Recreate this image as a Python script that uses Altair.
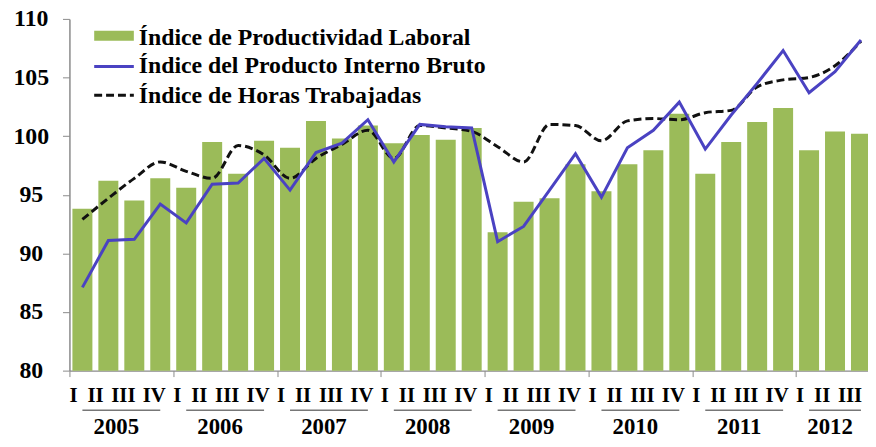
import altair as alt
import pandas as pd

years = ["2005", "2006", "2007", "2008", "2009", "2010", "2011", "2012"]
quarters = ["I", "II", "III", "IV"]

productividad = [93.8, 96.2, 94.5, 96.4,
                 95.6, 99.5, 96.8, 99.6,
                 99.0, 101.3, 99.8, 100.9,
                 99.4, 100.1, 99.7, 100.7,
                 91.8, 94.4, 94.7, 97.6,
                 95.3, 97.6, 98.8, 101.9,
                 96.8, 99.5, 101.2, 102.4,
                 98.8, 100.4, 100.2]
pib = [87.1, 91.1, 91.2, 94.2,
       92.6, 95.9, 96.0, 98.1,
       95.4, 98.6, 99.4, 101.4,
       97.8, 101.0, 100.8, 100.7,
       91.0, 92.3, 95.4, 98.5,
       94.8, 99.0, 100.5, 102.9,
       98.9, 101.8, 104.5, 107.3,
       103.7, 105.5, 108.2]
horas = [92.9, 94.7, 96.4, 97.8,
         97.0, 96.4, 99.2, 98.4,
         96.4, 98.1, 99.3, 100.5,
         98.1, 100.9, 100.7, 100.4,
         99.1, 97.8, 101.0, 100.9,
         99.6, 101.3, 101.5, 101.4,
         102.0, 102.2, 104.2, 104.8,
         105.0, 106.0, 108.1]

legend_labels = ["Índice de Productividad Laboral",
                 "Índice del Producto Interno Bruto",
                 "Índice de Horas Trabajadas"]
y_ticks = [80, 85, 90, 95, 100, 105, 110]

FONT = "Liberation Serif, Times New Roman, serif"
GREEN = "#9bbb59"
BLUE = "#4a42c2"

n = len(productividad)
keys = [f"{years[i // 4]}-{quarters[i % 4]}" for i in range(n)]
df = pd.DataFrame({
    "key": keys,
    "quarter": [quarters[i % 4] for i in range(n)],
    "prod": productividad,
    "pib": pib,
    "horas": horas,
})

yr_rows = []
for y in years:
    ks = [k for k in keys if k.startswith(y)]
    yr_rows.append({"year": y, "first": ks[0], "last": ks[-1],
                    "anchor": ks[1], "full": len(ks) == 4})
ydf = pd.DataFrame(yr_rows)
year_starts = list(ydf["first"])

xscale = alt.Scale(domain=keys, paddingInner=0.23, paddingOuter=0.115, range=[0, 812])
xaxis = alt.Axis(values=year_starts, labels=False, title=None, grid=False,
                 tickSize=6, tickColor="#8a8a8a", domainColor="#8a8a8a",
                 bandPosition=0, tickOffset=-3, domainWidth=1.5)


def X(field):
    return alt.X(f"{field}:N", sort=keys, scale=xscale, axis=xaxis)


yscale = alt.Scale(domain=[80, 110], zero=False, nice=False)
yaxis = alt.Axis(values=y_ticks, title=None, grid=False, tickSize=7,
                 tickColor="#8a8a8a", domainColor="#8a8a8a", domainWidth=1.5,
                 labelFont=FONT, labelFontSize=24, labelFontWeight="bold",
                 labelColor="black", labelAlign="center", labelPadding=32)

base = alt.Chart(df)

bars = base.mark_bar(color=GREEN).encode(
    x=X("key"),
    y=alt.Y("prod:Q", scale=yscale, axis=yaxis),
    y2=alt.datum(80),
)

line_pib = base.mark_line(color=BLUE, strokeWidth=3).encode(
    x=X("key"), y=alt.Y("pib:Q", scale=yscale, axis=yaxis)
)

line_horas = base.mark_line(color="#111111", strokeWidth=3, strokeDash=[8, 4],
                            interpolate="monotone").encode(
    x=X("key"), y=alt.Y("horas:Q", scale=yscale, axis=yaxis)
)

q_layers = []
for q, off in zip(quarters, [-9, -13, -11, -6]):
    q_layers.append(
        base.transform_filter(alt.datum.quarter == q).mark_text(
            font=FONT, fontSize=21, fontWeight="bold", color="black",
            dx=off, baseline="middle"
        ).encode(x=X("key"), y=alt.value(381), text="quarter:N")
    )

ybase = alt.Chart(ydf)
underline = ybase.mark_rule(color="#777777", strokeWidth=1.5).encode(
    x=X("first"), x2="last:N", y=alt.value(395)
)
year_full = ybase.transform_filter("datum.full").mark_text(
    font=FONT, fontSize=23, fontWeight="bold", color="black", dx=8, baseline="middle"
).encode(x=X("anchor"), y=alt.value(412), text="year:N")
year_part = ybase.transform_filter("!datum.full").mark_text(
    font=FONT, fontSize=23, fontWeight="bold", color="black", dx=-5, baseline="middle"
).encode(x=X("anchor"), y=alt.value(412), text="year:N")

one = alt.Chart(pd.DataFrame({"a": [0]}))
leg_rect = one.mark_rect(color=GREEN).encode(
    x=alt.value(25), x2=alt.value(65), y=alt.value(12), y2=alt.value(22))
leg_blue = one.mark_rule(color=BLUE, strokeWidth=3).encode(
    x=alt.value(25), x2=alt.value(65), y=alt.value(48))
leg_dash = one.mark_rule(color="#111111", strokeWidth=3, strokeDash=[8, 4]).encode(
    x=alt.value(25), x2=alt.value(65), y=alt.value(77))

leg_texts = []
for lbl, yy in zip(legend_labels, [26, 55, 85]):
    leg_texts.append(
        alt.Chart(pd.DataFrame({"t": [lbl]})).mark_text(
            font=FONT, fontSize=24, fontWeight="bold", color="black",
            align="left", baseline="alphabetic"
        ).encode(x=alt.value(70), y=alt.value(yy), text="t:N")
    )

chart = alt.layer(
    bars, line_horas, line_pib, *q_layers, underline, year_full, year_part,
    leg_rect, leg_blue, leg_dash, *leg_texts
).properties(
    width=806, height=355,
    padding={"left": 62, "top": 9, "right": 0, "bottom": 66},
    autosize="none",
    background="white",
).configure_view(stroke=None)

chart.save("out.html", embed_options={"renderer": "svg", "actions": False})
